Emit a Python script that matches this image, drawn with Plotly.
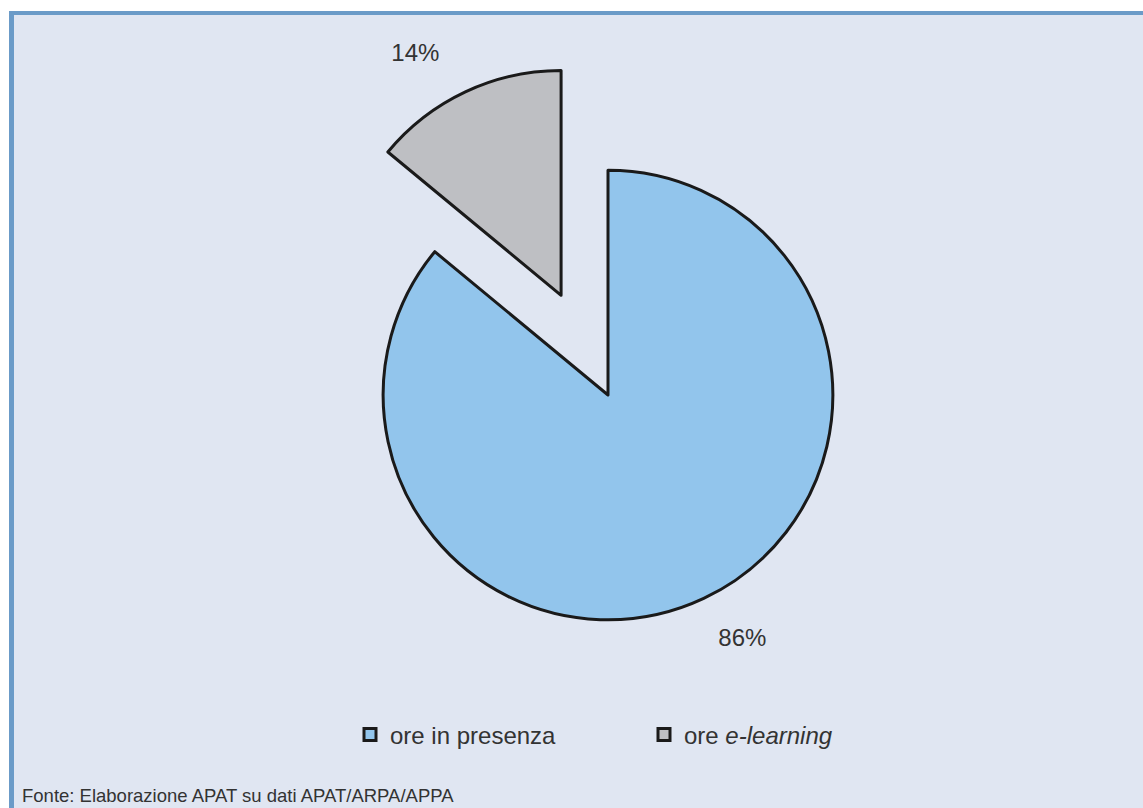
import plotly.graph_objects as go

labels = ["ore in presenza", "ore <i>e-learning</i>"]
values = [86, 14]
colors = ["#92C5EC", "#BEBFC3"]
pulls = [0, 0.49]
source_text = "Fonte: Elaborazione APAT su dati APAT/ARPA/APPA"

W, H = 1143, 808
def px(x):
    return x / W
def py(y):
    return 1 - y / H

FONT = "Liberation Sans, Arial, sans-serif"
TXT = "#333333"

fig = go.Figure(go.Pie(
    labels=labels,
    values=values,
    sort=False,
    direction="clockwise",
    rotation=0,
    pull=pulls,
    marker=dict(colors=colors, line=dict(color="#1a1a1a", width=3)),
    textinfo="percent",
    texttemplate=["&nbsp;<br>%{percent:.0%}", "%{percent:.0%}&nbsp;&#8201;<br>&nbsp;"],
    textposition="outside",
    outsidetextfont=dict(family=FONT, size=24, color=TXT),
    hoverinfo="label+percent",
    domain=dict(x=[px(273), px(943)], y=[py(730), py(60)]),
))

shapes = [
    dict(type="rect", xref="paper", yref="paper", x0=0, x1=1, y0=py(11), y1=1,
         fillcolor="white", line_width=0, layer="above"),
    dict(type="rect", xref="paper", yref="paper", x0=0, x1=px(9), y0=0, y1=1,
         fillcolor="white", line_width=0, layer="above"),
    dict(type="rect", xref="paper", yref="paper", x0=px(9), x1=1, y0=py(15), y1=py(11),
         fillcolor="#6B9BC8", line_width=0, layer="above"),
    dict(type="rect", xref="paper", yref="paper", x0=px(9), x1=px(14), y0=0, y1=py(11),
         fillcolor="#6B9BC8", line_width=0, layer="above"),
]

fig.update_layout(
    width=W, height=H,
    margin=dict(l=0, r=0, t=0, b=0, pad=0, autoexpand=False),
    paper_bgcolor="#E0E6F2",
    plot_bgcolor="#E0E6F2",
    showlegend=True,
    legend=dict(
        orientation="h",
        x=px(350), y=py(735),
        xanchor="left", yanchor="middle",
        font=dict(family=FONT, size=24, color=TXT),
        bgcolor="rgba(0,0,0,0)",
        entrywidth=249,
    ),
    shapes=shapes,
    annotations=[dict(
        text=source_text, xref="paper", yref="paper",
        x=px(20), y=py(795), xanchor="left", yanchor="middle",
        showarrow=False, font=dict(family=FONT, size=18.5, color=TXT),
    )],
)

fig.write_html("out.html", config={"displayModeBar": False},
               post_script="document.body.style.margin='0';")
